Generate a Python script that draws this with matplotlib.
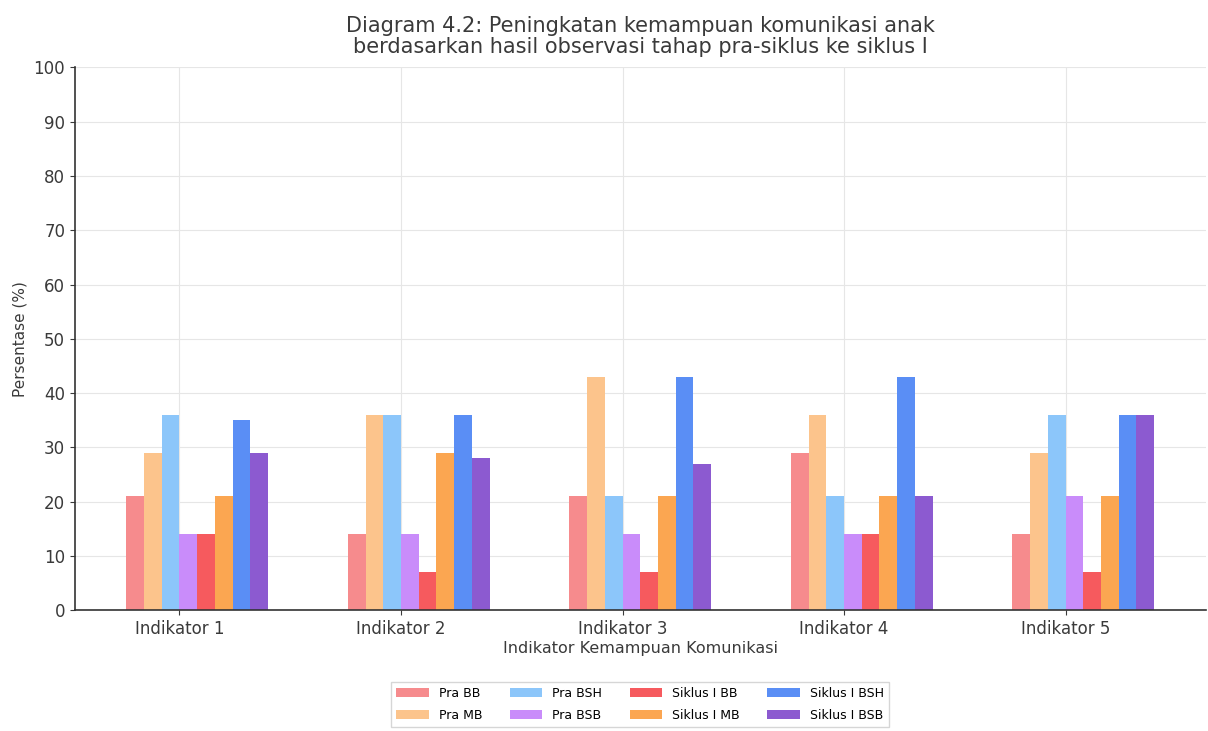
import numpy as np
import matplotlib
matplotlib.use('Agg')
import matplotlib.pyplot as plt

# data
indikator = ['Indikator 1', 'Indikator 2', 'Indikator 3', 'Indikator 4', 'Indikator 5']
series = ['Pra BB', 'Pra MB', 'Pra BSH', 'Pra BSB',
          'Siklus I BB', 'Siklus I MB', 'Siklus I BSH', 'Siklus I BSB']
pra_bb = [21, 14, 21, 29, 14]
pra_mb = [29, 36, 43, 36, 29]
pra_bsh = [36, 36, 21, 21, 36]
pra_bsb = [14, 14, 14, 14, 21]
sik_bb = [14, 7, 7, 14, 7]
sik_mb = [21, 29, 21, 21, 21]
sik_bsh = [35, 36, 43, 43, 36]
sik_bsb = [29, 28, 27, 21, 36]
values = [pra_bb, pra_mb, pra_bsh, pra_bsb, sik_bb, sik_mb, sik_bsh, sik_bsb]

colors = ['#f68b8d', '#fcc48c', '#8cc6fa', '#c98cfa',
          '#f65a5e', '#fba651', '#5a8ef5', '#8c5ad0']

fig, ax = plt.subplots(figsize=(12.08, 7.31), dpi=100)
x = np.arange(len(indikator))
w = 0.08
for i, (name, vals) in enumerate(zip(series, values)):
    ax.bar(x + (i - 2.5) * w, vals, w, label=name, color=colors[i])

ax.set_ylim(0, 100)
ax.set_yticks(range(0, 101, 10))
ax.set_xticks(x)
ax.set_xticklabels(indikator)
ax.tick_params(labelsize=12, colors='#3a3a3a')
ax.grid(True, color='#e6e6e6', linewidth=0.8)
ax.set_axisbelow(True)
for s in ['top', 'right']:
    ax.spines[s].set_visible(False)
for s in ['left', 'bottom']:
    ax.spines[s].set_color('#333333')
    ax.spines[s].set_linewidth(1.2)

ax.set_title('Diagram 4.2: Peningkatan kemampuan komunikasi anak\n'
             'berdasarkan hasil observasi tahap pra-siklus ke siklus I',
             fontsize=15, color='#3a3a3a', pad=10, linespacing=1.08)
ax.set_xlabel('Indikator Kemampuan Komunikasi', fontsize=11.5, color='#3a3a3a', labelpad=2)
ax.set_ylabel('Persentase (%)', fontsize=11, color='#3a3a3a')
ax.legend(loc='upper center', bbox_to_anchor=(0.5, -0.12), ncol=4, fontsize=9,
          handlelength=2.6, labelspacing=0.7, columnspacing=2.2, borderpad=0.4,
          frameon=True, edgecolor='#cccccc', fancybox=False)

plt.subplots_adjust(left=0.062, right=0.998, top=0.908, bottom=0.165)
plt.savefig('out.png')
